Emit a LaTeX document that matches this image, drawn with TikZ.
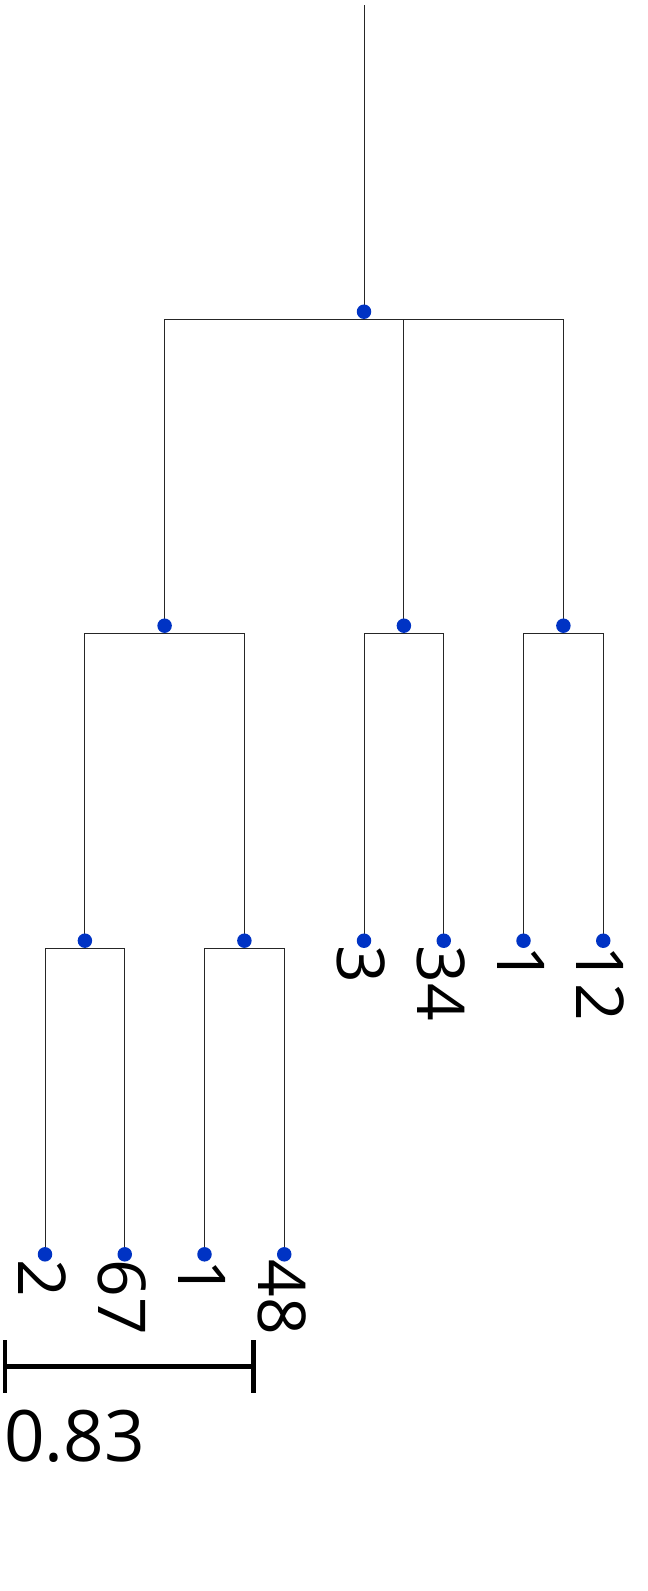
\documentclass[tikz,border=0pt]{standalone}
\usepackage{fontspec}
\newfontfamily\labfont{Open Sans}
\definecolor{dotblue}{RGB}{0,51,196}
\tikzset{
  dotnode/.style={circle,fill=dotblue,inner sep=0pt,minimum size=14.5pt},
  edge/.style={draw=black!85,line width=1pt},
  leaflab/.style={rotate=-90,anchor=west,inner sep=0pt,font=\labfont\fontsize{66}{78}\selectfont},
  scalebar/.style={draw=black,line width=4.5pt}
}
\begin{document}
\begin{tikzpicture}[x=1pt,y=-1pt]
\useasboundingbox (0,0) rectangle (648,1591);
% positions
\coordinate (top) at (364,5);
\coordinate (r) at (364,311.7);
\coordinate (rb) at (364,319.3);
\coordinate (a) at (164.6,625.7);
\coordinate (ab) at (164.6,633.3);
\coordinate (b) at (403.9,625.7);
\coordinate (bb) at (403.9,633.3);
\coordinate (c) at (563.4,625.7);
\coordinate (cb) at (563.4,633.3);
\coordinate (a1) at (84.9,940.7);
\coordinate (a1b) at (84.9,948.3);
\coordinate (a2) at (244.4,940.7);
\coordinate (a2b) at (244.4,948.3);
\coordinate (b1) at (364,940.7);
\coordinate (b2) at (443.75,940.7);
\coordinate (c1) at (523.5,940.7);
\coordinate (c2) at (603.25,940.7);
\coordinate (l1) at (45,1254.3);
\coordinate (l2) at (124.75,1254.3);
\coordinate (l3) at (204.5,1254.3);
\coordinate (l4) at (284.25,1254.3);
% edges
\draw[edge] (top) -- (r);
\draw[edge] (a) |- (rb) -| (c);
\draw[edge] (b) -- (b |- rb);
\draw[edge] (a1) |- (ab) -| (a2);
\draw[edge] (b1) |- (bb) -| (b2);
\draw[edge] (c1) |- (cb) -| (c2);
\draw[edge] (l1) |- (a1b) -| (l2);
\draw[edge] (l3) |- (a2b) -| (l4);
% dots
\foreach \n in {r,a,b,c,a1,a2,b1,b2,c1,c2,l1,l2,l3,l4}
  \node[dotnode] (d\n) at (\n) {};
% leaf labels
\node[leaflab] (tb1) at ([xshift=-2.5pt,yshift=-5pt]b1) {3};
\node[leaflab] (tb2) at ([xshift=-2.5pt,yshift=-5pt]b2) {34};
\node[leaflab] (tc1) at ([xshift=-2.5pt,yshift=-5pt]c1) {1};
\node[leaflab] (tc2) at ([xshift=-2.5pt,yshift=-5pt]c2) {12};
\node[leaflab] (tl1) at ([xshift=-2.5pt,yshift=-5pt]l1) {2};
\node[leaflab] (tl2) at ([xshift=-2.5pt,yshift=-5pt]l2) {67};
\node[leaflab] (tl3) at ([xshift=-2.5pt,yshift=-5pt]l3) {1};
\node[leaflab] (tl4) at ([xshift=-2.5pt,yshift=-5pt]l4) {48};
% scale bar
\coordinate (sL) at (5,1366.3);
\coordinate (sR) at (253.7,1366.3);
\draw[scalebar] (sL) -- (sR);
\draw[scalebar] (5,1340) -- (5,1393.3);
\draw[scalebar] (253.7,1340) -- (253.7,1393.3);
\node[anchor=base west,inner sep=0pt,font=\labfont\fontsize{71}{84}\selectfont] (scale) at (4,1461.7) {0.83};
\end{tikzpicture}
\end{document}
